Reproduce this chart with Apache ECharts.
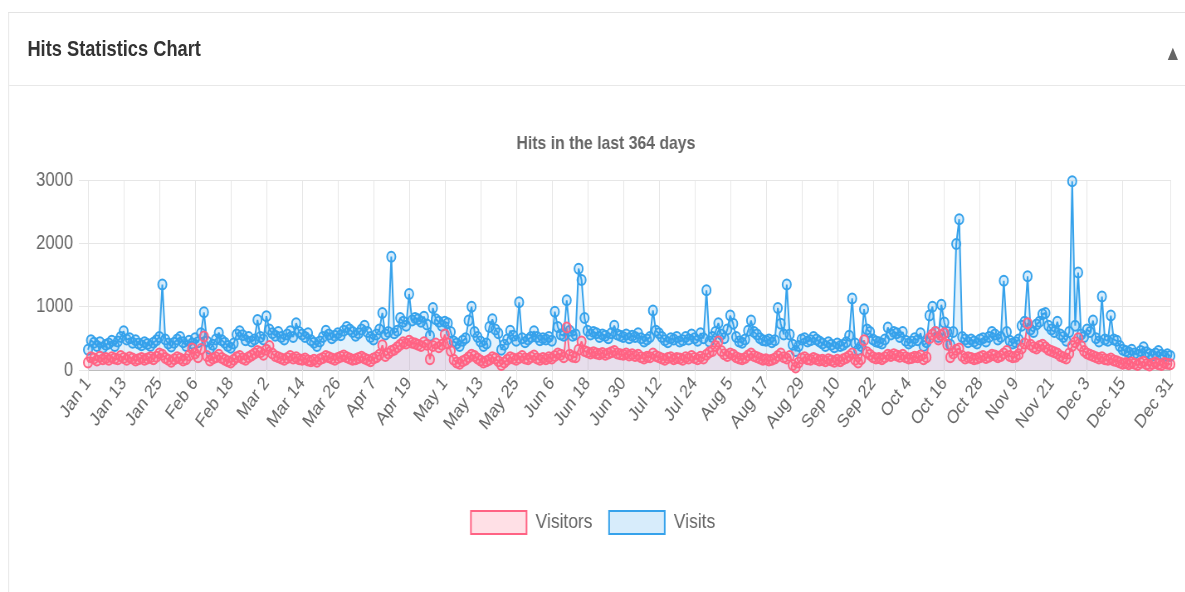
<!DOCTYPE html>
<html>
<head>
<meta charset="utf-8">
<title>Hits Statistics Chart</title>
<script src="https://cdn.jsdelivr.net/npm/echarts@6/dist/echarts.min.js"></script>
<style>
    html, body { margin: 0; padding: 0; background: #fff; overflow: hidden; }
    /* the reference is squeezed sideways, so the page is drawn wider and narrowed */
    #page {
        position: absolute; left: 0; top: 0; width: 1428px; height: 592px;
        transform: scaleX(0.83); transform-origin: 0 0;
    }
    #panel {
        position: absolute; left: 10px; top: 12px; width: 1418px; height: 580px;
        border-top: 1px solid #e3e3e3; border-left: 1px solid #e3e3e3;
    }
    #panel .head {
        height: 72px; border-bottom: 1px solid #e8e8e8; position: relative;
    }
    #panel .head h3 {
        margin: 0; position: absolute; left: 22px; top: 23px;
        font: bold 22px "Liberation Sans", Arial, sans-serif;
        color: #333;
    }
    #panel .head .caret {
        position: absolute; left: 1396px; top: 30px; font: 16px "DejaVu Sans", sans-serif; color: #666;
    }
    #mychart { position: absolute; left: 0; top: 0; width: 1428px; height: 592px; }
</style>
</head>
<body>
<div id="page">
    <div id="panel">
        <div class="head"><h3>Hits Statistics Chart</h3><span class="caret">&#9650;</span></div>
    </div>
    <div id="mychart"></div>
</div>
<script>
    var monthNames = ['Jan', 'Feb', 'Mar', 'Apr', 'May', 'Jun', 'Jul', 'Aug', 'Sep', 'Oct', 'Nov', 'Dec'];
    var monthDays = [31, 28, 31, 30, 31, 30, 31, 31, 30, 31, 30, 31];
    var yTicks = [0, 1000, 2000, 3000];

    // one label per day, Jan 1 .. Dec 31
    var days = [];
    for (var m = 0; m < 12; m++) {
        for (var d = 1; d <= monthDays[m]; d++) {
            days.push(monthNames[m] + ' ' + d);
        }
    }

    // Visitors (pink)
    var visitors = [
        120, 200, 180, 150, 210, 170, 190, 160, 200, 180,
        170, 220, 190, 160, 200, 180, 150, 170, 190, 160,
        180, 200, 170, 210, 260, 240, 190, 160, 130, 170,
        200, 180, 150, 170, 230, 340, 260, 200, 330, 530,
        220, 150, 180, 200, 240, 190, 160, 140, 120, 160,
        200, 220, 180, 160, 200, 230, 260, 300, 280, 240,
        320, 380, 260, 220, 200, 180, 160, 190, 220, 180,
        200, 170, 160, 180, 150, 140, 160, 130, 170, 190,
        220, 200, 180, 160, 190, 210, 230, 200, 180, 160,
        170, 190, 210, 180, 160, 140, 180, 200, 240, 390,
        220, 260, 300, 320, 360, 400, 440, 420, 460, 430,
        420, 400, 380, 440, 400, 170, 380, 420, 360, 400,
        560, 420, 300, 160, 120, 100, 140, 160, 200, 240,
        220, 180, 150, 120, 140, 160, 200, 180, 140, 80,
        120, 160, 200, 180, 160, 190, 220, 180, 170, 200,
        230, 180, 160, 190, 170, 200, 180, 220, 260, 240,
        200, 670, 240, 210, 200, 320, 450, 300, 280, 260,
        280, 260, 250, 270, 240, 260, 280, 300, 260, 250,
        240, 260, 230, 250, 220, 240, 200, 180, 210, 200,
        260, 220, 200, 180, 160, 190, 200, 170, 190, 180,
        160, 200, 180, 220, 190, 170, 210, 180, 240, 280,
        300, 380, 450, 300, 250, 220, 260, 240, 200, 180,
        170, 190, 230, 260, 220, 200, 180, 160, 170, 150,
        160, 180, 220, 260, 200, 180, 220, 80, 40, 120,
        180, 200, 170, 160, 190, 170, 150, 160, 140, 170,
        150, 130, 160, 140, 170, 190, 220, 260, 160, 120,
        170, 470, 280, 240, 200, 180, 190, 170, 200, 240,
        220, 250, 230, 210, 240, 200, 180, 190, 210, 200,
        230, 170, 200, 500, 560, 600, 480, 550, 580, 400,
        200, 260, 320, 340, 220, 180, 200, 190, 170, 180,
        200, 220, 190, 210, 240, 230, 200, 220, 260, 300,
        220, 200, 210, 250, 340, 420, 740, 400, 360, 340,
        380, 400, 360, 320, 300, 280, 260, 220, 200, 180,
        260, 380, 440, 500, 380, 300, 260, 240, 220, 200,
        180, 200, 170, 160, 180, 150, 140, 120, 100, 110,
        90, 120, 100, 80, 110, 130, 90, 70, 100, 120,
        90, 80, 110, 100, 90
    ];

    // Visits (blue)
    var visits = [
        320, 470, 430, 380, 440, 350, 400, 420, 460, 380,
        450, 520, 610, 480, 500, 430, 470, 420, 390, 440,
        410, 380, 430, 470, 520, 1350, 480, 420, 370, 430,
        480, 520, 440, 380, 460, 420, 500, 440, 580, 910,
        450, 330, 400, 480, 590, 470, 430, 380, 350, 420,
        560, 610, 550, 470, 520, 450, 480, 790, 520, 480,
        850, 640, 580, 540, 600, 520, 480, 560, 610, 520,
        740, 600, 560, 520, 580, 470, 430, 380, 450, 520,
        620, 560, 500, 540, 580, 550, 620, 680, 640, 600,
        540, 580, 640, 700, 600, 520, 480, 560, 640, 900,
        560, 600, 1790, 580, 620, 820, 760, 700, 1200, 780,
        820, 800, 760, 840, 720, 540, 980, 800, 760, 700,
        760, 740, 600, 450, 420, 380, 460, 500, 780, 1000,
        600, 520, 450, 380, 420, 680, 800, 640, 580, 320,
        400, 480, 620, 540, 460, 1070, 500, 440, 480, 520,
        610, 520, 470, 500, 480, 520, 460, 920, 680, 560,
        540, 1100, 620, 540, 560, 1600, 1420, 820, 620, 560,
        600, 580, 520, 560, 540, 500, 580, 700, 560, 540,
        520, 560, 500, 540, 520, 580, 500, 450, 480, 520,
        940, 620, 580, 520, 470, 440, 500, 480, 520, 450,
        470, 520, 480, 560, 500, 460, 580, 500, 1260, 450,
        520, 600, 740, 560, 500, 640, 860, 730, 520, 450,
        430, 480, 620, 780, 600, 560, 500, 470, 460, 480,
        440, 470, 980, 730, 560, 1350, 560, 400, 300, 380,
        480, 500, 450, 470, 520, 480, 450, 420, 380, 440,
        400, 360, 420, 380, 400, 440, 540, 1130, 420, 320,
        380, 960, 640, 600, 480, 450, 440, 420, 480, 670,
        560, 600, 580, 520, 600, 460, 420, 450, 500, 470,
        580, 380, 440, 860, 1000, 600, 520, 1030, 750, 600,
        400, 600, 1990, 2380, 520, 480, 440, 480, 450, 420,
        480, 500, 450, 520, 600, 560, 480, 520, 1410, 600,
        460, 420, 440, 480, 700, 760, 1480, 640, 600, 720,
        760, 880, 900, 700, 640, 600, 760, 560, 520, 460,
        600, 2980, 700, 1540, 560, 520, 640, 600, 780, 500,
        450, 1160, 480, 460, 860, 480, 460, 380, 320, 300,
        280, 320, 260, 240, 300, 360, 280, 250, 230, 260,
        300, 240, 220, 250, 220
    ];

    var lastIdx = days.length - 1;
    // labels every 12 days, the last one always shown
    function showTick(index) {
        return (index % 12 === 0 && index <= lastIdx - 13) || index === lastIdx;
    }

    var font = '"Liberation Sans", Arial, sans-serif';
    var mychart = echarts.init(document.getElementById('mychart'));
    var option = {
        animation: false,
        backgroundColor: 'transparent',
        title: {
            text: 'Hits in the last 364 days',
            left: 725,
            top: 129,
            textAlign: 'center',
            textStyle: { color: '#666', fontSize: 19, fontWeight: 'bold', fontFamily: font }
        },
        legend: {
            top: 505,
            left: 'center',
            itemWidth: 67,
            itemHeight: 23,
            itemGap: 19,
            icon: 'rect',
            textStyle: { color: '#666', fontSize: 21, fontFamily: font, padding: [0, 0, 0, 6] },
            data: [
                {name: 'Visitors', itemStyle: {color: 'rgba(255,99,132,0.2)', borderColor: 'rgb(255,99,132)', borderWidth: 2}},
                {name: 'Visits', itemStyle: {color: 'rgba(54,162,235,0.2)', borderColor: 'rgb(54,162,235)', borderWidth: 2}}
            ]
        },
        grid: { left: 106, right: 18, top: 180, bottom: 222, containLabel: false },
        xAxis: {
            type: 'category',
            data: days,
            boundaryGap: false,
            axisLine: { show: true, lineStyle: { color: '#bdbdbd', width: 1 } },
            axisTick: { show: true, interval: function (i) { return showTick(i); }, length: 10, lineStyle: { color: '#e6e6e6' } },
            splitLine: { show: true, interval: function (i) { return showTick(i); }, lineStyle: { color: '#e6e6e6' } },
            axisLabel: {
                interval: function (i) { return showTick(i); },
                rotate: 50,
                color: '#666',
                fontSize: 19,
                fontFamily: font,
                margin: 10
            }
        },
        yAxis: {
            type: 'value',
            min: yTicks[0],
            max: yTicks[yTicks.length - 1],
            interval: 1000,
            axisLine: { show: false },
            axisTick: { show: true, length: 11, lineStyle: { color: '#e6e6e6' } },
            splitLine: { show: true, lineStyle: { color: '#e6e6e6' } },
            axisLabel: {
                color: '#666', fontSize: 20, fontFamily: font, margin: 18,
                formatter: function (v) { return String(v); }
            }
        },
        series: [
            {
                name: 'Visits',
                type: 'line',
                data: visits,
                symbol: 'circle',
                symbolSize: 10,
                showAllSymbol: true,
                lineStyle: { color: 'rgb(54,162,235)', width: 2 },
                itemStyle: { color: 'rgba(54,162,235,0.2)', borderColor: 'rgb(54,162,235)', borderWidth: 2 },
                areaStyle: { color: 'rgba(54,162,235,0.2)', origin: 'start' }
            },
            {
                name: 'Visitors',
                type: 'line',
                data: visitors,
                symbol: 'circle',
                symbolSize: 10,
                showAllSymbol: true,
                lineStyle: { color: 'rgb(255,99,132)', width: 2 },
                itemStyle: { color: 'rgba(255,99,132,0.2)', borderColor: 'rgb(255,99,132)', borderWidth: 2 },
                areaStyle: { color: 'rgba(255,99,132,0.2)', origin: 'start' }
            }
        ]
    };
    mychart.setOption(option);
</script>
</body>
</html>
